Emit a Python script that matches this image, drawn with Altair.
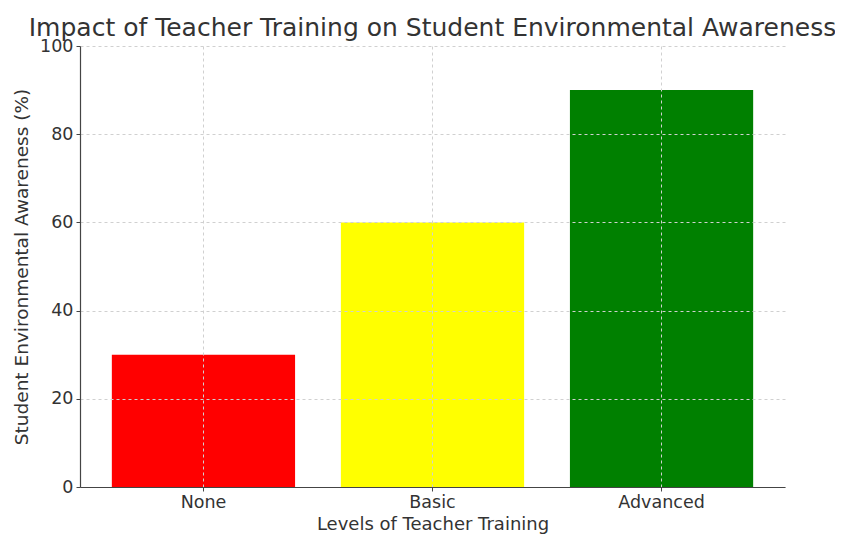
import altair as alt
import pandas as pd

levels = ["None", "Basic", "Advanced"]
awareness = [30, 60, 90]
colors = ["#ff0000", "#ffff00", "#008000"]

df = pd.DataFrame({"level": levels, "value": awareness, "color": colors})

font = "DejaVu Sans"

bars = alt.Chart(df).mark_bar().encode(
    x=alt.X("level:N", sort=levels,
            scale=alt.Scale(paddingInner=0.2, paddingOuter=0.139),
            axis=alt.Axis(title="Levels of Teacher Training", labelAngle=0,
                          grid=True, gridDash=[3, 3], gridColor="#d0d0d0",
                          bandPosition=0.5, domain=True, domainColor="#444",
                          domainWidth=1.2,
                          tickColor="#444", tickSize=4,
                          labelFontSize=17.5, titleFontSize=18,
                          labelColor="#333", titleColor="#333",
                          labelFont=font, titleFont=font,
                          labelPadding=2, titlePadding=5,
                          titleFontWeight="normal", zindex=1)),
    y=alt.Y("value:Q", scale=alt.Scale(domain=[0, 100], nice=False),
            axis=alt.Axis(title="Student Environmental Awareness (%)",
                          values=[0, 20, 40, 60, 80, 100],
                          grid=True, gridDash=[3, 3], gridColor="#d0d0d0",
                          domain=True, domainColor="#444", domainWidth=1.2,
                          tickColor="#444",
                          tickSize=4, labelFontSize=17.5, titleFontSize=18.5,
                          labelColor="#333", titleColor="#333",
                          labelFont=font, titleFont=font,
                          labelPadding=3, titlePadding=8,
                          titleFontWeight="normal", zindex=1)),
    color=alt.Color("color:N", scale=None),
).properties(
    width=705, height=441,
    title=alt.TitleParams("Impact of Teacher Training on Student Environmental Awareness",
                          fontSize=25, font=font, fontWeight="normal",
                          color="#333", anchor="middle", offset=4, dy=8),
    autosize=alt.AutoSizeParams(type="none"),
    padding={"left": 72, "top": 38, "right": 50, "bottom": 48},
).configure_view(stroke=None)

chart = bars
chart.save("out.html", embed_options={"renderer": "svg", "actions": False})
